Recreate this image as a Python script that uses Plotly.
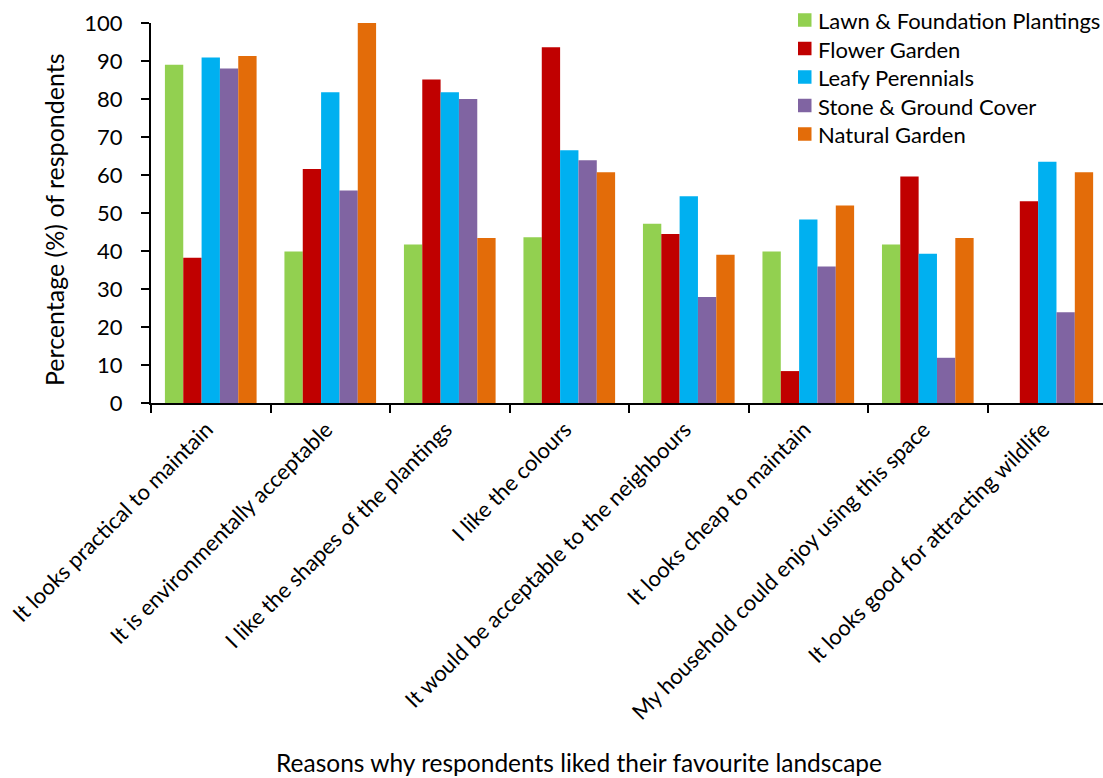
import plotly.graph_objects as go

# Survey reasons (x categories)
reasons = [
    "It looks practical to maintain",
    "It is environmentally acceptable",
    "I like the shapes of the plantings",
    "I like the colours",
    "It would be acceptable to the neighbours",
    "It looks cheap to maintain",
    "My household could enjoy using this space",
    "It looks good for attracting wildlife",
]

# Percentage of respondents per landscape type
lawn_foundation = [89.0, 39.9, 41.7, 43.6, 47.2, 39.9, 41.7, 0.0]
flower_garden = [38.2, 61.6, 85.1, 93.6, 44.5, 8.4, 59.6, 53.1]
leafy_perennials = [90.9, 81.8, 81.8, 66.5, 54.4, 48.3, 39.3, 63.5]
stone_ground = [88.0, 55.9, 80.0, 63.9, 27.9, 35.9, 11.9, 23.9]
natural_garden = [91.3, 100.0, 43.4, 60.7, 39.0, 52.0, 43.4, 60.7]

series_names = [
    "Lawn & Foundation Plantings",
    "Flower Garden",
    "Leafy Perennials",
    "Stone & Ground Cover",
    "Natural Garden",
]
series_values = [lawn_foundation, flower_garden, leafy_perennials, stone_ground, natural_garden]
series_colors = ["#92D050", "#C00000", "#00B0F0", "#8064A2", "#E36C09"]

FONT = "Lato"
TEXT = "#000000"

# plot area in pixels: y=0 at 403, y=100 at 23, left edge 151
PLOT_LEFT, PLOT_BOTTOM, PLOT_H, PLOT_W = 151, 403, 380, 952


def px_x(px):
    return (px - PLOT_LEFT) / PLOT_W


def px_y(py):
    return (PLOT_BOTTOM - py) / PLOT_H


fig = go.Figure()
for name, vals, col in zip(series_names, series_values, series_colors):
    fig.add_trace(go.Bar(
        name=name,
        x=reasons,
        y=vals,
        marker=dict(color=col, line=dict(width=0)),
        showlegend=False,
    ))

# Legend drawn as colour squares with text labels, top right
shapes = []
annotations = []
LEG_X0, LEG_SW, LEG_TOP, LEG_STEP = 798, 13.5, 20, 28.5
for i, (name, col) in enumerate(zip(series_names, series_colors)):
    cy = LEG_TOP + i * LEG_STEP
    shapes.append(dict(
        type="rect", xref="paper", yref="paper",
        x0=px_x(LEG_X0), x1=px_x(LEG_X0 + LEG_SW),
        y0=px_y(cy + LEG_SW / 2), y1=px_y(cy - LEG_SW / 2),
        fillcolor=col, line=dict(width=0), layer="above",
    ))
    annotations.append(dict(
        text=name, xref="paper", yref="paper",
        x=px_x(816), y=px_y(cy + 0.5),
        xanchor="left", yanchor="middle", showarrow=False,
        font=dict(family=FONT, size=22, color=TEXT),
    ))

annotations += [
    dict(
        text="Percentage (%) of respondents",
        xref="paper", yref="paper",
        x=px_x(54), y=px_y(220),
        xanchor="center", yanchor="middle",
        textangle=-90,
        showarrow=False,
        font=dict(family=FONT, size=25, color=TEXT),
    ),
    dict(
        text="Reasons why respondents liked their favourite landscape",
        xref="paper", yref="paper",
        x=px_x(579), y=px_y(763),
        xanchor="center", yanchor="middle",
        showarrow=False,
        font=dict(family=FONT, size=24.5, color=TEXT),
    ),
]

fig.update_layout(
    width=1103,
    height=778,
    barmode="group",
    bargap=0.233,
    bargroupgap=0,
    plot_bgcolor="white",
    paper_bgcolor="white",
    margin=dict(l=151, r=0, t=23, b=375),
    font=dict(family=FONT, size=22, color=TEXT),
    showlegend=False,
    xaxis=dict(
        type="category",
        range=[-0.5, 7.466],
        tickson="boundaries",
        ticks="outside",
        ticklen=8,
        tickwidth=1.5,
        tickcolor="black",
        showline=True,
        linecolor="black",
        linewidth=2,
        showgrid=False,
        tickangle=-45,
        ticklabelshift=-4,
        ticklabelstandoff=3,
        tickfont=dict(family=FONT, size=22, color=TEXT),
        automargin=False,
    ),
    yaxis=dict(
        range=[0, 100],
        dtick=10,
        ticks="outside",
        ticklen=8,
        tickwidth=1.5,
        tickcolor="black",
        showline=True,
        linecolor="black",
        linewidth=2,
        showgrid=False,
        zeroline=False,
        ticklabelstandoff=14,
        tickfont=dict(family=FONT, size=22, color=TEXT),
        automargin=False,
    ),
    shapes=shapes,
    annotations=annotations,
)

fig.write_html("out.html")
